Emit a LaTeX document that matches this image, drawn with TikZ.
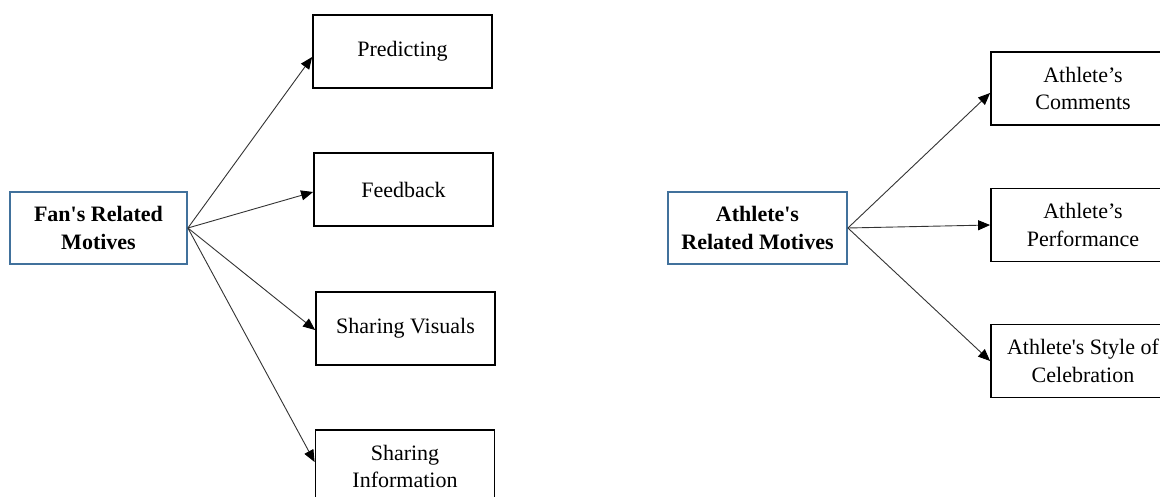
\documentclass[tikz,border=0pt]{standalone}
\usepackage{fontspec}
\setmainfont{Liberation Serif}
\usetikzlibrary{arrows.meta}
\definecolor{boxblue}{HTML}{41719C}
\tikzset{
  mainbox/.style={draw=boxblue, line width=1.8pt, minimum width=177pt, minimum height=72pt, align=center, inner sep=0pt},
  leafbox/.style={draw=black, line width=1.8pt, minimum width=179pt, minimum height=73pt, align=center, inner sep=0pt},
  rleafbox/.style={draw=black, line width=1.8pt, minimum width=184pt, minimum height=73pt, align=center, inner sep=0pt},
  conn/.style={draw=black!80, line width=0.9pt, -{Triangle[length=12pt,width=10pt,color=black,fill=black]}}
}
\begin{document}
\begin{tikzpicture}[x=1pt,y=-1pt, every node/.append style={font=\fontsize{22}{27.5}\selectfont}]
\path[use as bounding box, clip] (0,0) rectangle (1160,497);
\fill[white] (0,0) rectangle (1160,497);
% left tree
\node[mainbox, font=\fontsize{22}{27.5}\selectfont\bfseries] (fan) at (98.5,228) {Fan\textquotesingle s Related\\Motives};
\node[leafbox] (pred) at (402.5,51.5) {Predicting};
\node[leafbox] (feed) at (403.5,189.5) {Feedback};
\node[leafbox] (vis) at (405.5,328.5) {Sharing Visuals};
\node[leafbox] (info) at (405,466.5) {Sharing\\Information};
\draw[conn] (fan.east) -- ([yshift=-5.5pt]pred.west);
\draw[conn] (fan.east) -- ([yshift=-2.5pt]feed.west);
\draw[conn] (fan.east) -- ([yshift=-1.5pt]vis.west);
\draw[conn] (fan.east) -- ([yshift=4.5pt]info.west);
% right tree
\node[mainbox, minimum width=179pt, font=\fontsize{22}{27.5}\selectfont\bfseries] (ath) at (757.5,228) {Athlete\textquotesingle s\\Related Motives};
\node[rleafbox] (comm) at (1083,88.5) {Athlete’s\\Comments};
\node[rleafbox] (perf) at (1083,225) {Athlete’s\\Performance};
\node[rleafbox] (cele) at (1083,361) {Athlete\textquotesingle s Style of\\Celebration};
\draw[conn] (ath.east) -- ([yshift=-4.5pt]comm.west);
\draw[conn] (ath.east) -- (perf.west);
\draw[conn] (ath.east) -- (cele.west);
\end{tikzpicture}
\end{document}
